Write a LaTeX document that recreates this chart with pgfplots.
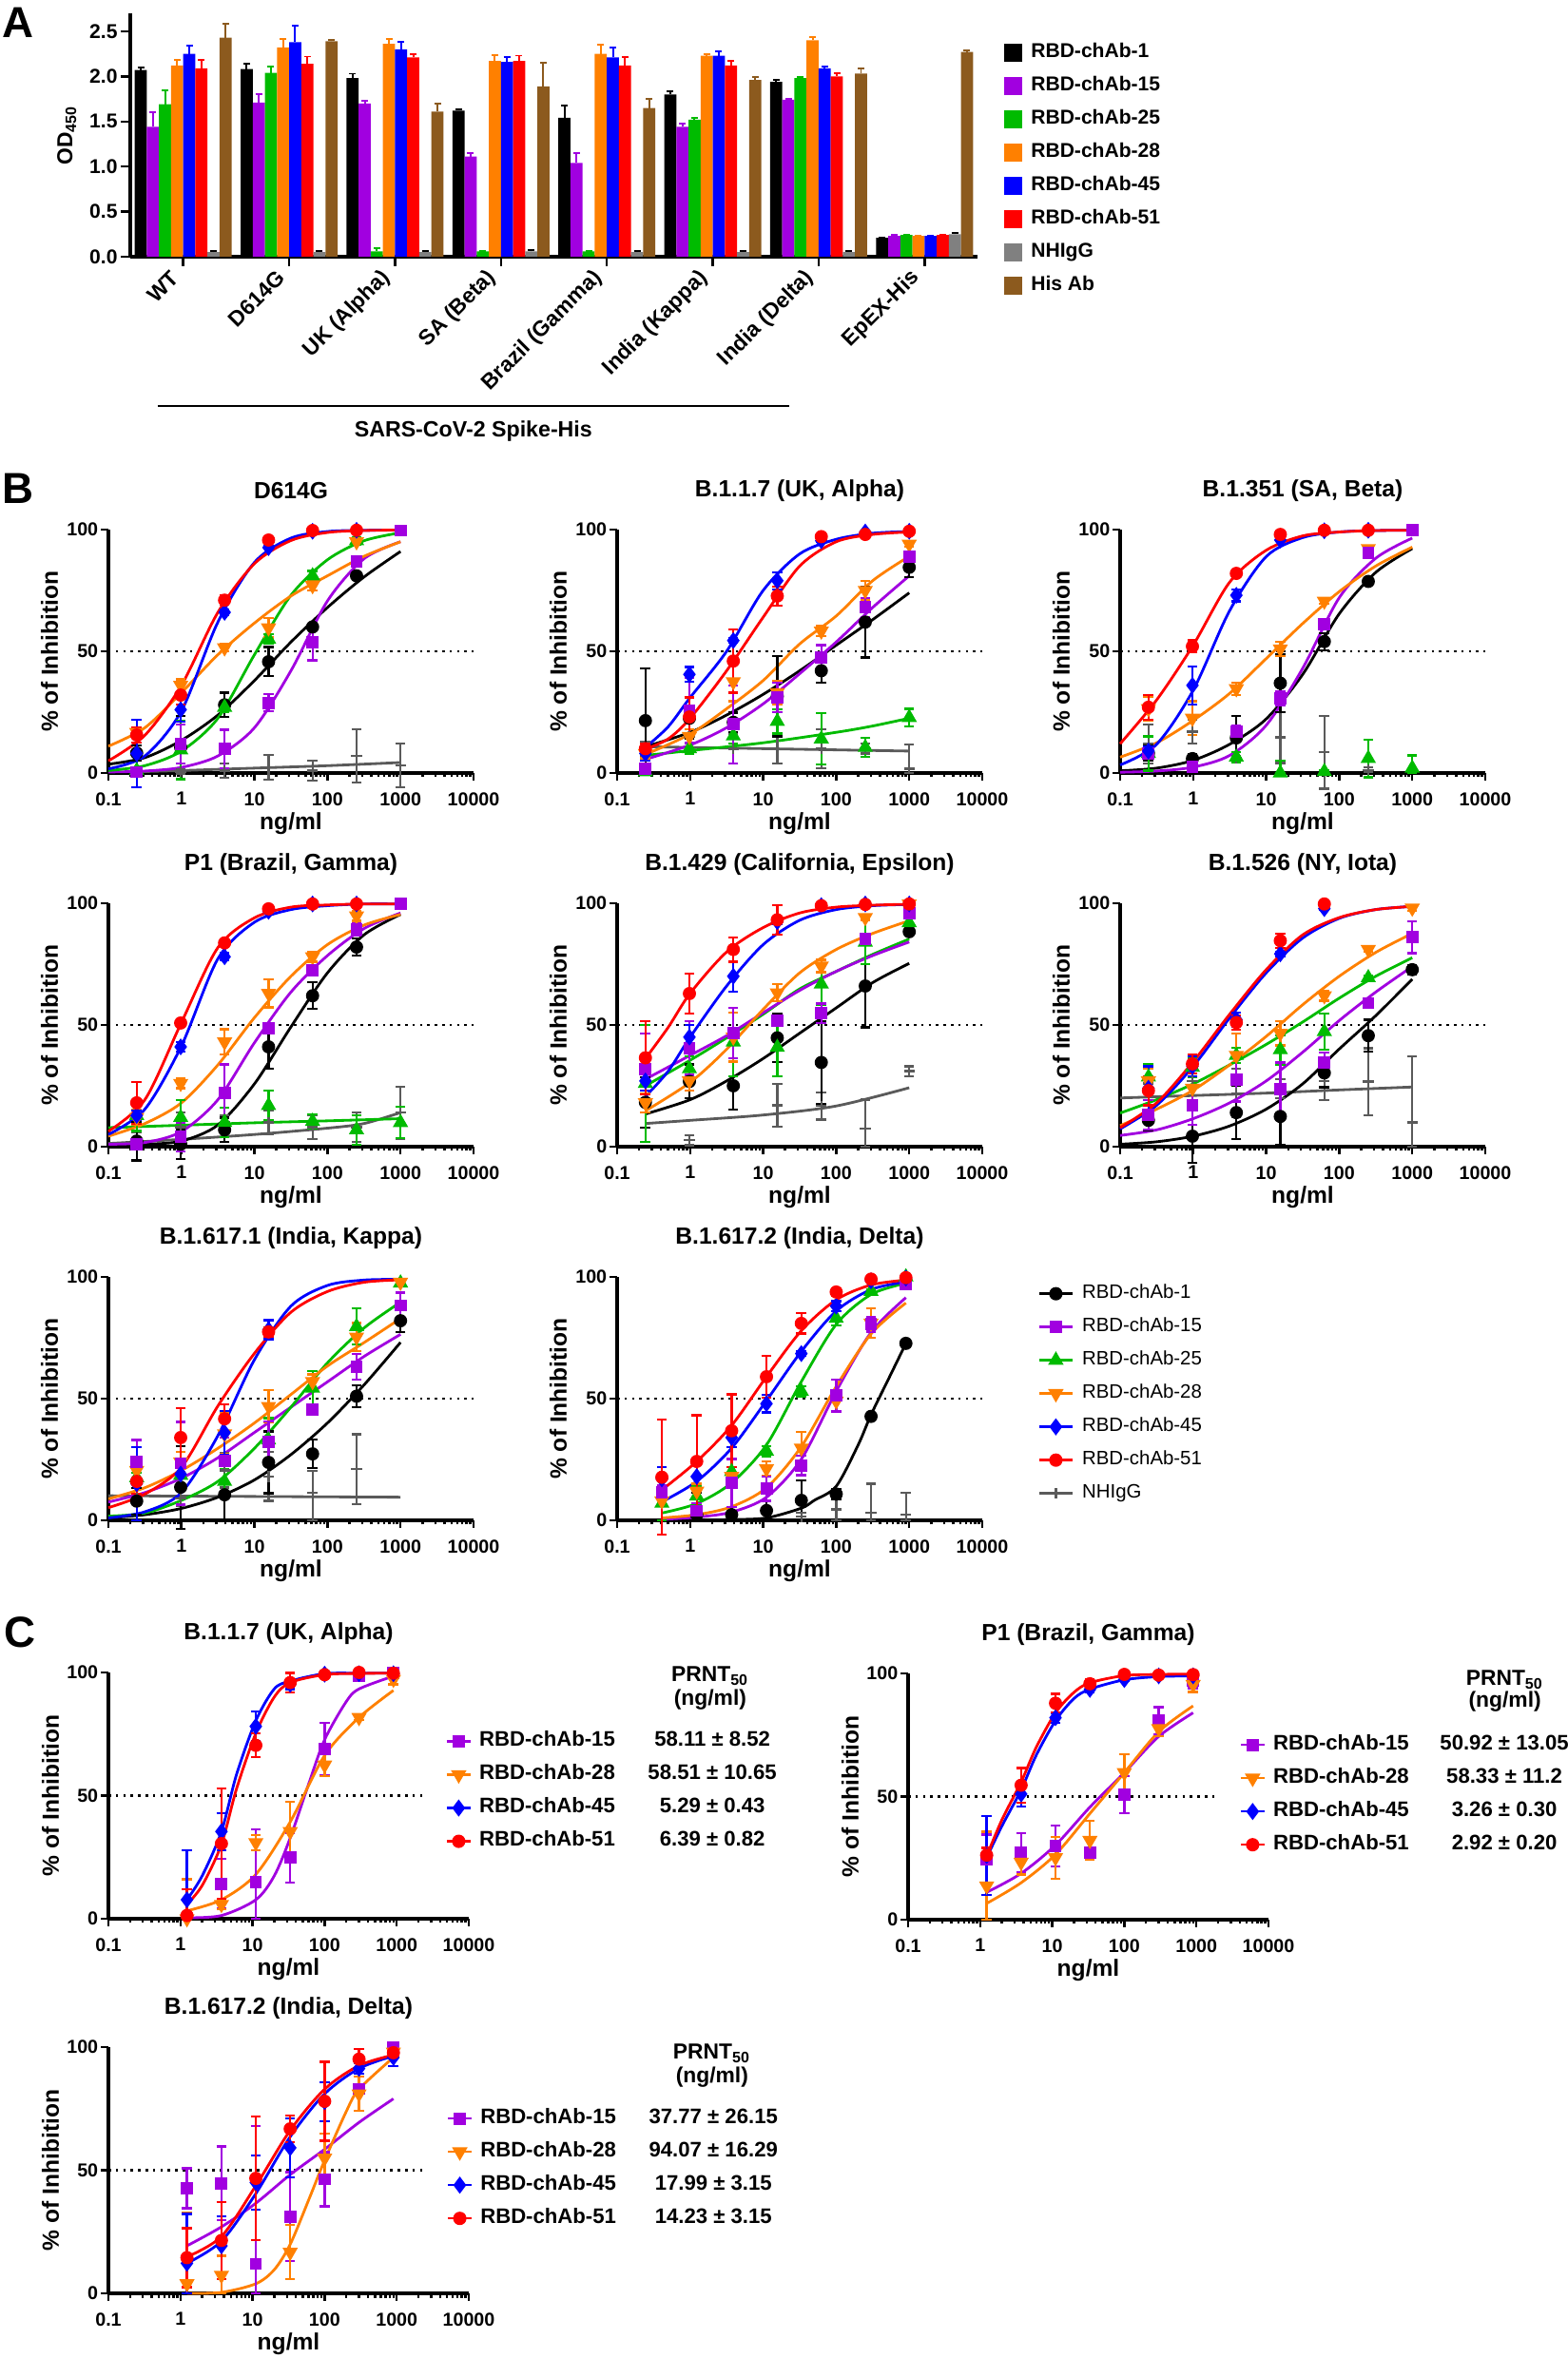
\documentclass[border=0pt]{standalone}
\usepackage{fontspec}
\setmainfont{Liberation Sans}
\usepackage{pgfplots}
\pgfplotsset{compat=1.18}
\newcommand\fs[1]{\fontsize{#1}{#1}\selectfont}

\definecolor{cBlk}{HTML}{000000}
\definecolor{cPur}{HTML}{A100E0}
\definecolor{cGrn}{HTML}{00BB00}
\definecolor{cOrg}{HTML}{FF8000}
\definecolor{cBlu}{HTML}{0000FF}
\definecolor{cRed}{HTML}{FF0000}
\definecolor{cGry}{HTML}{808080}
\definecolor{cGry2}{HTML}{5A5A5A}
\definecolor{cBrn}{HTML}{8C5A1E}

\tikzset{
 s1/.style={cBlk, mark=*, mark size=1.65pt},
 s15/.style={cPur, mark=square*, mark size=1.5pt},
 s25/.style={cGrn, mark=triangle*, mark size=2pt},
 s28/.style={cOrg, mark=triangle*, mark size=2pt, mark options={rotate=180}},
 s45/.style={cBlu, mark=diamond*, mark size=2pt},
 s51/.style={cRed, mark=*, mark size=1.65pt},
 sIg/.style={cGry2, mark=+, mark size=1.6pt},
}

\pgfplotsset{
 pts/.style={only marks, forget plot, line width=0.65pt,
   error bars/y dir=both, error bars/y explicit,
   error bars/error bar style={line width=0.65pt, solid},
   error bars/error mark options={rotate=90, mark size=1.5pt, line width=0.65pt}},
 crv/.style={smooth, no marks, line width=0.8pt, forget plot},
 dot50/.style={black, line width=0.7pt, dash pattern=on 0.25mm off 0.53mm, forget plot},
 drx/.style={anchor=south west, scale only axis, width=38.4mm, height=25.6mm,
   xmin=0.1, xmax=10000, ymin=0, ymax=100,
   axis lines=left, axis line style={-, line width=0.9pt},
   xtick={0.1,1,10,100,1000,10000}, xticklabels={0.1,1,10,100,1000,10000},
   minor xtick={0.2,0.3,0.4,0.5,0.6,0.7,0.8,0.9,2,3,4,5,6,7,8,9,20,30,40,50,60,70,80,90,200,300,400,500,600,700,800,900,2000,3000,4000,5000,6000,7000,8000,9000},
   ytick={0,50,100}, yticklabels={0,50,100},
   tick align=outside, major tick length=0.8mm, minor tick length=0.45mm,
   tick style={black, line width=0.7pt},
   tick label style={font=\fs{5.6}\bfseries},
   y tick label style={inner sep=0.6pt},
   label style={font=\fs{7}\bfseries},
   title style={font=\fs{7}\bfseries, at={(axis description cs:0.5,1.077)}, anchor=center},
   xlabel={ng/ml}, ylabel={\% of Inhibition},
   xlabel style={at={(axis description cs:0.5,-0.207)}, anchor=center},
   ylabel style={at={(axis description cs:-0.161,0.5)}, anchor=center},
   clip=false},
 bleg/.style={legend style={at={(axis description cs:1.151,1.002)}, anchor=north west, draw=none, fill=none, inner sep=0pt,
   font=\fs{5.8}, nodes={inner sep=0pt, minimum height=3.5mm}, row sep=0pt,
   /tikz/every odd column/.append style={column sep=0.9mm}}, legend cell align=left,
   legend image code/.code={\draw[mark repeat=2,mark phase=2,##1] plot coordinates {(0mm,0mm) (1.75mm,0mm) (3.5mm,0mm)};}},
 cleg/.style={legend style={at={(axis description cs:#1)}, anchor=north west, draw=none, fill=none, inner sep=0pt,
   font=\fs{6.3}\bfseries, nodes={inner sep=0pt, minimum height=3.5mm}, row sep=0pt,
   /tikz/every odd column/.append style={column sep=0.8mm}}, legend cell align=left,
   legend image code/.code={\draw[mark repeat=2,mark phase=2,##1] plot coordinates {(0mm,0mm) (1.25mm,0mm) (2.5mm,0mm)};}},
 bb/.style 2 args={fill=#1, draw=none,
   error bars/y dir=plus, error bars/y explicit,
   error bars/error bar style={#2, line width=0.55pt},
   error bars/error mark options={#2, rotate=90, mark size=0.35mm, line width=0.55pt},
   legend image code/.code={\fill[#1] (0mm,-0.95mm) rectangle (1.9mm,0.95mm);}},
}
\newcommand\crv[2]{\addplot[#1,crv] coordinates {#2};}
\newcommand\pts[2]{\addplot[#1,pts] coordinates {#2};}

\begin{document}
\begin{tikzpicture}
\useasboundingbox (0,0) rectangle (164.8mm,248mm);

% ---------------- A ----------------
\begin{axis}[at={(13.7mm,221mm)}, anchor=south west, scale only axis, width=89.1mm, height=25.6mm,
  ybar=0pt, bar width=0.1144, xmin=-0.5, xmax=7.5, ymin=0, ymax=2.7,
  axis lines=left, axis line style={-, line width=0.9pt},
  xtick={0,1,2,3,4,5,6,7},
  xticklabels={WT, D614G, UK (Alpha), SA (Beta), Brazil (Gamma), India (Kappa), India (Delta), EpEX-His},
  x tick label style={rotate=45, anchor=east, font=\fs{6.5}\bfseries},
  ytick={0,0.5,1,1.5,2,2.5}, yticklabels={0.0,0.5,1.0,1.5,2.0,2.5},
  y tick label style={font=\fs{6}\bfseries, inner sep=0.8pt},
  tick align=outside, major tick length=1mm, tick style={black, line width=0.7pt},
  ylabel={OD\textsubscript{450}}, ylabel style={at={(axis description cs:-0.075,0.5)}, anchor=center, font=\fs{6.5}\bfseries},
  clip=false,
  legend style={at={(axis description cs:1.031,0.908)}, anchor=north west, draw=none, fill=none, inner sep=0pt,
    font=\fs{6}\bfseries, nodes={inner sep=0pt, minimum height=3.5mm}, row sep=0pt,
    /tikz/every odd column/.append style={column sep=0.9mm}}, legend cell align=left]
\addplot[bb={cBlk}{cBlk}] coordinates {(0,2.07)+-(0,0.03) (1,2.08)+-(0,0.06) (2,1.98)+-(0,0.05) (3,1.62)+-(0,0.01) (4,1.54)+-(0,0.14) (5,1.80)+-(0,0.03) (6,1.94)+-(0,0.02) (7,0.21)+-(0,0.005)};
\addlegendentry{RBD-chAb-1}
\addplot[bb={cPur}{cPur}] coordinates {(0,1.44)+-(0,0.16) (1,1.71)+-(0,0.09) (2,1.70)+-(0,0.03) (3,1.11)+-(0,0.04) (4,1.04)+-(0,0.11) (5,1.44)+-(0,0.04) (6,1.74)+-(0,0.01) (7,0.23)+-(0,0.01)};
\addlegendentry{RBD-chAb-15}
\addplot[bb={cGrn}{cGrn}] coordinates {(0,1.69)+-(0,0.16) (1,2.04)+-(0,0.07) (2,0.06)+-(0,0.03) (3,0.06)+-(0,0) (4,0.06)+-(0,0) (5,1.52)+-(0,0.02) (6,1.98)+-(0,0.01) (7,0.24)+-(0,0.005)};
\addlegendentry{RBD-chAb-25}
\addplot[bb={cOrg}{cOrg}] coordinates {(0,2.12)+-(0,0.06) (1,2.32)+-(0,0.09) (2,2.36)+-(0,0.05) (3,2.17)+-(0,0.07) (4,2.25)+-(0,0.10) (5,2.23)+-(0,0.02) (6,2.40)+-(0,0.04) (7,0.23)+-(0,0)};
\addlegendentry{RBD-chAb-28}
\addplot[bb={cBlu}{cBlu}] coordinates {(0,2.25)+-(0,0.09) (1,2.38)+-(0,0.18) (2,2.30)+-(0,0.08) (3,2.16)+-(0,0.05) (4,2.21)+-(0,0.11) (5,2.23)+-(0,0.05) (6,2.09)+-(0,0.02) (7,0.23)+-(0,0)};
\addlegendentry{RBD-chAb-45}
\addplot[bb={cRed}{cRed}] coordinates {(0,2.09)+-(0,0.09) (1,2.14)+-(0,0.08) (2,2.21)+-(0,0.04) (3,2.17)+-(0,0.06) (4,2.12)+-(0,0.09) (5,2.12)+-(0,0.05) (6,2.00)+-(0,0.04) (7,0.24)+-(0,0)};
\addlegendentry{RBD-chAb-51}
\addplot[bb={cGry}{black}] coordinates {(0,0.05)+-(0,0.01) (1,0.05)+-(0,0.01) (2,0.05)+-(0,0.01) (3,0.06)+-(0,0.01) (4,0.05)+-(0,0.01) (5,0.05)+-(0,0.01) (6,0.05)+-(0,0.01) (7,0.25)+-(0,0.01)};
\addlegendentry{NHIgG}
\addplot[bb={cBrn}{cBrn}] coordinates {(0,2.43)+-(0,0.15) (1,2.39)+-(0,0.01) (2,1.61)+-(0,0.09) (3,1.89)+-(0,0.26) (4,1.65)+-(0,0.10) (5,1.96)+-(0,0.03) (6,2.03)+-(0,0.06) (7,2.27)+-(0,0.02)};
\addlegendentry{His Ab}
\draw[line width=0.8pt] (axis cs:-0.24,-1.656) -- (axis cs:5.72,-1.656);
\node[font=\fs{6.6}\bfseries] at (axis cs:2.74,-1.94) {SARS-CoV-2 Spike-His};
\end{axis}

% ---------------- B1 D614G ----------------
\begin{semilogxaxis}[drx, at={(11.4mm,166.7mm)}, title={D614G}]
\addplot[dot50] coordinates {(0.1,50)(10000,50)};
\crv{cGry2}{(0.244,0.5)(1,1)(10,2)(100,3)(1000,4.3)}
\crv{cBlk}{(0.1,3.6)(0.316,6.3)(1,13.4)(3.16,23.8)(10,38)(31.6,53.8)(100,68)(316,80.5)(1000,91)}
\crv{cPur}{(0.1,0.4)(0.316,0.8)(1,2.3)(3.16,7)(10,18.6)(31.6,42)(100,70.7)(316,88)(1000,95)}
\crv{cGrn}{(0.1,1)(0.316,3)(1,9)(3.16,22.5)(10,48.6)(31.6,73)(100,87.6)(316,95.4)(1000,98.7)}
\crv{cOrg}{(0.1,11)(0.316,18.6)(1,33)(3.16,48.6)(10,61.6)(31.6,72.7)(100,81)(316,89)(1000,95)}
\crv{cBlu}{(0.1,1.7)(0.316,7)(1,25.5)(3.16,62)(10,86.5)(31.6,96.5)(100,99.2)(316,99.7)(1000,99.8)}
\crv{cRed}{(0.1,5)(0.316,15.5)(1,36)(3.16,66)(10,86)(31.6,95.5)(100,98.8)(316,99.6)(1000,99.8)}
\pts{sIg}{(0.244,0.5)+-(0,1) (0.977,0.5)+-(0,1) (3.9,1)+-(0,3) (15.6,2.3)+-(0,5) (62.5,1)+-(0,4) (250,7)+-(0,11) (1000,3)+-(0,9)}
\pts{s1}{(0.244,8.2)+-(0,3) (0.977,10.5)+-(0,13) (3.9,28)+-(0,5) (15.6,45.7)+-(0,6) (62.5,60)+-(0,1) (250,81)+-(0,1)}
\pts{s25}{(0.244,1)+-(0,1) (0.977,9.5)+-(0,12) (3.9,27)+-(0,2) (15.6,55)+-(0,2) (62.5,81)+-(0,2) (250,95.4)+-(0,1.5)}
\pts{s28}{(0.244,16.7)+-(0,1.5) (0.977,36)+-(0,2.5) (3.9,51.4)+-(0,1.5) (15.6,59.6)+-(0,4) (62.5,77)+-(0,2) (250,95)+-(0,1)}
\pts{s15}{(0.244,0.4)+-(0,1) (0.977,12)+-(0,8) (3.9,9.8)+-(0,8) (15.6,28.8)+-(0,3.5) (62.5,53.8)+-(0,7.5) (250,87)+-(0,1.5) (1000,99.6)+-(0,0.5)}
\pts{s45}{(0.244,8)+-(0,14) (0.977,26)+-(0,5) (3.9,66)+-(0,1) (15.6,92.6)+-(0,0.5) (62.5,99.3)+-(0,0.3) (250,99.7)+-(0,0)}
\pts{s51}{(0.244,15.6)+-(0,3) (0.977,32)+-(0,4) (3.9,71)+-(0,2) (15.6,95.7)+-(0,1) (62.5,99.6)+-(0,0.3) (250,99.7)+-(0,0.3)}
\end{semilogxaxis}

% ---------------- B2 B.1.1.7 ----------------
\begin{semilogxaxis}[drx, at={(64.9mm,166.7mm)}, title={B.1.1.7 (UK, Alpha)}]
\addplot[dot50] coordinates {(0.1,50)(10000,50)};
\crv{cGry2}{(0.244,10.8)(10,10)(1000,9)}
\crv{cGrn}{(0.244,7.2)(1,9.2)(10,12.4)(100,16.7)(316,19.3)(1000,22.5)}
\crv{cBlk}{(0.244,10.8)(1,16.7)(3.16,23.8)(10,32.3)(31.6,42)(100,52.5)(316,63)(1000,74)}
\crv{cPur}{(0.244,5.6)(1,11.5)(3.16,18.6)(10,28.4)(31.6,40.8)(100,53.8)(316,68)(1000,81)}
\crv{cOrg}{(0.244,7.6)(1,16)(3.16,26.4)(10,38)(31.6,53)(100,64.5)(316,79)(1000,89)}
\crv{cBlu}{(0.244,10.5)(0.5,19)(1,31)(3.16,50)(10,75)(31.6,90)(100,96)(316,98.5)(1000,99.2)}
\crv{cRed}{(0.244,9.8)(0.5,14)(1,22.5)(3.16,42)(10,64)(31.6,85)(100,95)(316,98)(1000,99)}
\pts{sIg}{(0.244,10)+-(0,3) (0.977,15)+-(0,3) (3.9,10)+-(0,6) (15.6,9.8)+-(0,6) (62.5,10)+-(0,8) (250,10)+-(0,2) (1000,1.7)+=(0,10)-=(0,1.7)}
\pts{s1}{(0.244,21.5)+-(0,21.5) (0.977,22.5)+-(0,8.5) (3.9,20.8)+-(0,4) (15.6,31.5)+-(0,16.5) (62.5,42)+-(0,4.8) (250,62)+-(0,14.5) (1000,84.5)+-(0,4)}
\pts{s25}{(0.244,0.5)+-(0,1) (0.977,10)+-(0,2) (3.9,15.2)+-(0,3) (15.6,21.2)+-(0,5) (62.5,14)+-(0,10.5) (250,10.5)+-(0,4) (1000,22.8)+-(0,3.6)}
\pts{s28}{(0.244,8)+-(0,2) (0.977,15)+-(0,3) (3.9,37.5)+-(0,8) (15.6,33)+-(0,5) (62.5,58.3)+-(0,2) (250,75)+-(0,4) (1000,94)+-(0,1)}
\pts{s15}{(0.244,1.7)+-(0,2) (0.977,25.8)+-(0,13.5) (3.9,20)+-(0,16) (15.6,31)+-(0,6) (62.5,47.5)+-(0,5) (250,68)+-(0,4) (1000,89)+-(0,2)}
\pts{s45}{(0.244,8)+-(0,3) (0.977,40.5)+-(0,3) (3.9,54.4)+-(0,1) (15.6,79)+-(0,3.5) (62.5,95.4)+-(0,0.5) (250,99)+-(0,0.3) (1000,99.3)+-(0,0.3)}
\pts{s51}{(0.244,10)+-(0,2) (0.977,23)+-(0,8) (3.9,46)+-(0,13) (15.6,72.7)+-(0,3.9) (62.5,97.1)+-(0,0.5) (250,98)+-(0,0.5) (1000,99.3)+-(0,0.3)}
\end{semilogxaxis}

% ---------------- B3 B.1.351 ----------------
\begin{semilogxaxis}[drx, at={(117.8mm,166.7mm)}, title={B.1.351 (SA, Beta)}]
\addplot[dot50] coordinates {(0.1,50)(10000,50)};
\crv{cBlk}{(0.1,0.9)(0.316,2)(1,5.2)(3.16,11.8)(10,22.2)(31.6,40.5)(100,65.4)(316,82.4)(1000,92.2)}
\crv{cPur}{(0.1,0.3)(0.316,0.8)(1,2.4)(3.16,7.2)(10,19.6)(31.6,43)(100,72)(316,88.2)(1000,96.5)}
\crv{cOrg}{(0.1,6.5)(0.316,12.4)(1,21.6)(3.16,32.7)(10,47)(31.6,61.4)(100,74.5)(316,85)(1000,92.8)}
\crv{cBlu}{(0.1,3.3)(0.316,11.8)(1,34)(3.16,66.7)(10,88.9)(31.6,96.7)(100,99)(316,99.6)(1000,99.7)}
\crv{cRed}{(0.1,12)(0.316,30)(1,52.5)(3.16,78.4)(10,91.5)(31.6,97.4)(100,99)(316,99.6)(1000,99.7)}
\pts{sIg}{(0.244,12)+-(0,8) (0.977,17)+-(0,5) (3.9,6)+-(0,1) (15.6,14.6)+-(0,10.5) (62.5,8.5)+-(0,15) (250,1.3)+-(0,1)}
\pts{s1}{(0.244,8.1)+-(0,3) (0.977,5.9)+-(0,2) (3.9,14.4)+-(0,9) (15.6,36.9)+-(0,11.8) (62.5,54)+-(0,3.5) (250,78.7)+-(0,1)}
\pts{s25}{(0.244,8)+-(0,7) (3.9,6.5)+-(0,2) (15.6,0)+=(0,5)-=(0,0) (62.5,0.6)+-(0,0.5) (250,6)+-(0,7.8) (1000,2)+=(0,5.2)-=(0,2)}
\pts{s28}{(0.244,26.4)+-(0,5) (0.977,22.5)+-(0,7) (3.9,34.6)+-(0,2.5) (15.6,51)+-(0,3) (62.5,70.6)+-(0,1) (250,92.2)+-(0,1)}
\pts{s15}{(0.244,8)+-(0,2) (0.977,2.5)+-(0,1) (3.9,17)+-(0,2.5) (15.6,30.7)+-(0,3) (62.5,61)+-(0,2) (250,90.5)+-(0,1) (1000,99.9)+-(0,0)}
\pts{s45}{(0.244,9)+-(0,2) (0.977,36)+-(0,7.8) (3.9,73)+-(0,2.5) (15.6,95.7)+-(0,0.5) (62.5,99.5)+-(0,0.2) (250,99.7)+-(0,0)}
\pts{s51}{(0.244,27)+-(0,5) (0.977,52)+-(0,2.5) (3.9,82)+-(0,0.5) (15.6,98)+-(0,0.3) (62.5,99.7)+-(0,0) (250,99.7)+-(0,0)}
\end{semilogxaxis}

% ---------------- B4 P1 ----------------
\begin{semilogxaxis}[drx, at={(11.4mm,127.4mm)}, title={P1 (Brazil, Gamma)}]
\addplot[dot50] coordinates {(0.1,50)(10000,50)};
\crv{cGry2}{(0.1,1.3)(1,3)(10,5)(100,7.6)(316,9.5)(1000,14)}
\crv{cGrn}{(0.1,7.8)(1,8.8)(10,9.8)(100,10.6)(1000,11.5)}
\crv{cBlk}{(0.1,0.7)(0.316,1)(1,2.3)(3.16,8.9)(10,25.8)(31.6,49.2)(100,71.4)(316,87)(1000,95.4)}
\crv{cPur}{(0.1,1)(0.316,1.7)(1,6.2)(3.16,19.3)(10,42.7)(31.6,63.5)(100,78.5)(316,89.6)(1000,96)}
\crv{cOrg}{(0.1,4.3)(0.316,9.5)(1,18)(3.16,33.6)(10,53)(31.6,70)(100,83)(316,91)(1000,95.4)}
\crv{cBlu}{(0.1,5)(0.316,15.4)(1,41.4)(3.16,77.2)(10,92.2)(31.6,97.4)(100,99)(316,99.7)(1000,99.7)}
\crv{cRed}{(0.1,6.3)(0.316,19.3)(1,51)(3.16,81.8)(10,94)(31.6,98.4)(100,99.3)(316,99.7)(1000,99.7)}
\pts{sIg}{(0.244,3)+-(0,3) (0.977,8)+-(0,6) (3.9,10)+-(0,3) (15.6,10)+-(0,5) (62.5,8)+-(0,5) (250,8)+-(0,6) (1000,14)+-(0,10.7)}
\pts{s1}{(0.244,2.3)+-(0,8) (0.977,1)+-(0,6) (3.9,6.9)+-(0,5) (15.6,41)+-(0,9) (62.5,62)+-(0,5.5) (250,82)+-(0,3.6)}
\pts{s25}{(0.244,12.8)+-(0,6.4) (0.977,12)+-(0,7) (3.9,10)+-(0,6) (15.6,16.9)+-(0,6) (62.5,10.4)+-(0,3) (250,6.9)+-(0,6) (1000,9.9)+-(0,6.5)}
\pts{s28}{(0.244,12)+-(0,3) (0.977,26)+-(0,2) (3.9,43)+-(0,5.2) (15.6,63)+-(0,5.8) (62.5,78)+-(0,2) (250,94.8)+-(0,2)}
\pts{s15}{(0.244,1)+-(0,1) (0.977,4)+-(0,6) (3.9,22)+-(0,11.8) (15.6,48.6)+-(0,1.5) (62.5,72.4)+-(0,1.5) (250,89.3)+-(0,2.5) (1000,99.7)+-(0,0)}
\pts{s45}{(0.244,12.8)+-(0,2) (0.977,41)+-(0,2) (3.9,78)+-(0,1.5) (15.6,96.7)+-(0,0.3) (62.5,99.7)+-(0,0) (250,99.7)+-(0,0)}
\pts{s51}{(0.244,18)+-(0,8.5) (0.977,50.8)+-(0,1) (3.9,83.7)+-(0,1) (15.6,97.7)+-(0,0.5) (62.5,99.7)+-(0,0) (250,99.7)+-(0,0)}
\end{semilogxaxis}

% ---------------- B5 B.1.429 ----------------
\begin{semilogxaxis}[drx, at={(64.9mm,127.4mm)}, title={B.1.429 (California, Epsilon)}]
\addplot[dot50] coordinates {(0.1,50)(10000,50)};
\crv{cGry2}{(0.244,9.5)(1,10.8)(10,13)(100,16.7)(1000,24.2)}
\crv{cBlk}{(0.244,13.4)(1,19.3)(3.16,27)(10,36.2)(31.6,46.6)(100,57)(316,67.4)(1000,75.3)}
\crv{cGrn}{(0.244,25)(1,35.5)(3.16,44.7)(10,54.4)(31.6,64.8)(100,72)(316,79)(1000,85.3)}
\crv{cPur}{(0.244,27.7)(1,37.5)(3.16,45.6)(10,55)(31.6,64.2)(100,72)(316,78.5)(1000,84.1)}
\crv{cOrg}{(0.244,14.7)(1,26.4)(3.16,40)(10,56.4)(31.6,71.4)(100,81)(316,87.6)(1000,92.8)}
\crv{cBlu}{(0.244,20.6)(0.5,31)(1,45)(3.16,66)(10,83)(31.6,93)(100,97.4)(316,99)(1000,99.5)}
\crv{cRed}{(0.244,36.2)(0.5,49)(1,63)(3.16,80)(10,90)(31.6,96)(100,98.4)(316,99.2)(1000,99.6)}
\pts{sIg}{(0.977,2.6)+-(0,2) (15.6,17)+-(0,8.7) (62.5,16.7)+-(0,5.6) (250,7.3)+=(0,12)-=(0,7.3) (1000,31)+-(0,2)}
\pts{s1}{(0.244,18.2)+-(0,10.4) (0.977,26.8)+-(0,7) (3.9,25)+-(0,9.8) (15.6,44.7)+-(0,10) (62.5,34.6)+-(0,17) (250,66)+-(0,17) (1000,88.3)+-(0,1)}
\pts{s25}{(0.244,26)+-(0,24) (0.977,32)+-(0,5) (3.9,43)+-(0,14) (15.6,40.8)+-(0,12) (62.5,66.8)+-(0,8.5) (250,84)+-(0,9) (1000,92)+-(0,2)}
\pts{s28}{(0.244,18)+-(0,4) (0.977,27)+-(0,4) (3.9,45)+-(0,10) (15.6,63.2)+-(0,3.5) (62.5,74.2)+-(0,2.5) (250,94.1)+-(0,1) (1000,99.7)+-(0,0)}
\pts{s15}{(0.244,31.9)+-(0,14.7) (0.977,40.5)+-(0,11) (3.9,46.6)+-(0,10.4) (15.6,51.8)+-(0,2) (62.5,54.8)+-(0,4) (250,85.3)+-(0,1.5) (1000,96)+-(0,2)}
\pts{s45}{(0.244,27)+-(0,4) (0.977,45)+-(0,5) (3.9,70)+-(0,6.2) (15.6,92.4)+-(0,1) (62.5,99)+-(0,0.3) (250,99.7)+-(0,0) (1000,99.7)+-(0,0)}
\pts{s51}{(0.244,36.5)+-(0,15) (0.977,62.9)+-(0,8.2) (3.9,81)+-(0,5) (15.6,93.2)+-(0,6) (62.5,99)+-(0,0.3) (250,99.5)+-(0,0) (1000,99.7)+-(0,0)}
\end{semilogxaxis}

% ---------------- B6 B.1.526 ----------------
\begin{semilogxaxis}[drx, at={(117.8mm,127.4mm)}, title={B.1.526 (NY, Iota)}]
\addplot[dot50] coordinates {(0.1,50)(10000,50)};
\crv{cGry2}{(0.1,20)(1,21)(10,22)(100,23.3)(1000,24.5)}
\crv{cBlk}{(0.1,1)(0.316,2)(1,4.3)(3.16,8.5)(10,15.4)(31.6,25.8)(100,40.1)(316,53.8)(1000,68.8)}
\crv{cPur}{(0.1,4.6)(0.316,6.9)(1,11.5)(3.16,18)(10,27)(31.6,38.8)(100,51.8)(316,63.5)(1000,74)}
\crv{cGrn}{(0.1,13.8)(0.316,19.3)(1,25.8)(3.16,33.6)(10,42)(31.6,51.2)(100,61)(316,70)(1000,77.6)}
\crv{cOrg}{(0.1,8.6)(0.316,15.4)(1,23.2)(3.16,33.6)(10,45.3)(31.6,58.3)(100,70)(316,79.8)(1000,87.6)}
\crv{cBlu}{(0.1,7.3)(0.316,17)(1,33)(3.16,52.9)(10,71.4)(31.6,85.7)(100,93.8)(316,97.4)(1000,98.7)}
\crv{cRed}{(0.1,7.8)(0.316,18)(1,34.9)(3.16,54.4)(10,72.7)(31.6,87)(100,94.1)(316,97.4)(1000,98.7)}
\pts{sIg}{(0.244,26)+-(0,7) (0.977,27)+-(0,9) (3.9,22)+-(0,10) (15.6,23.8)+-(0,4) (62.5,27)+-(0,8) (250,26.7)+-(0,13.7) (1000,10)+=(0,27)-=(0,10)}
\pts{s1}{(0.244,10.8)+-(0,4) (0.977,4.3)+-(0,11) (3.9,14)+-(0,11) (15.6,12.4)+-(0,11.7) (62.5,30.3)+-(0,5.9) (250,45.6)+-(0,6.5) (1000,72.7)+-(0,2)}
\pts{s25}{(0.244,28.6)+-(0,5.5) (0.977,32.6)+-(0,4) (3.9,37.5)+-(0,3) (15.6,39.8)+-(0,6) (62.5,47.3)+-(0,7.4) (250,69.4)+-(0,1)}
\pts{s28}{(0.244,27)+-(0,5) (0.977,24)+-(0,5) (3.9,37.5)+-(0,9) (15.6,46.6)+-(0,5) (62.5,62)+-(0,2) (250,81)+-(0,1) (1000,98)+-(0,1)}
\pts{s15}{(0.244,13)+-(0,6) (0.977,17)+-(0,8) (3.9,27.5)+-(0,9) (15.6,23.6)+-(0,11) (62.5,34.6)+-(0,4) (250,59)+-(0,2) (1000,86)+-(0,6.5)}
\pts{s45}{(0.244,24)+-(0,9) (0.977,33)+-(0,4) (3.9,52.2)+-(0,3) (15.6,79.2)+-(0,1) (62.5,97.8)+-(0,0.5)}
\pts{s51}{(0.244,23)+-(0,6) (0.977,34)+-(0,4) (3.9,51)+-(0,3) (15.6,84.6)+-(0,3) (62.5,99.7)+-(0,0.5)}
\end{semilogxaxis}

% ---------------- B7 B.1.617.1 ----------------
\begin{semilogxaxis}[drx, at={(11.4mm,88.1mm)}, title={B.1.617.1 (India, Kappa)}]
\addplot[dot50] coordinates {(0.1,50)(10000,50)};
\crv{cGry2}{(0.1,10.1)(10,9.8)(1000,9.5)}
\crv{cBlk}{(0.1,1)(0.316,2.3)(1,4.9)(3.16,9.5)(10,16.6)(31.6,27)(100,40)(316,55.6)(1000,73.1)}
\crv{cPur}{(0.1,7.5)(0.316,11.4)(1,17.3)(3.16,25.7)(10,36.1)(31.6,46.5)(100,56.9)(316,67.3)(1000,76.4)}
\crv{cGrn}{(0.1,1.7)(0.316,3)(1,8.2)(3.16,16)(10,29.6)(31.6,46.5)(100,64.7)(316,79)(1000,89.6)}
\crv{cOrg}{(0.1,8.8)(0.316,13.4)(1,20.5)(3.16,29.6)(10,40)(31.6,51.7)(100,63.4)(316,73)(1000,82.9)}
\crv{cBlu}{(0.1,1)(0.316,3.5)(1,11.4)(3.16,34.8)(10,66)(31.6,88)(100,96.5)(316,98.7)(1000,99)}
\crv{cRed}{(0.1,5.2)(0.316,10.8)(1,21.8)(3.16,47)(10,68.6)(31.6,85.5)(100,94)(316,97.8)(1000,98.8)}
\pts{sIg}{(0.244,9)+-(0,2) (0.977,9)+-(0,3) (3.9,20.5)+-(0,7) (15.6,18)+-(0,10) (62.5,11.4)+=(0,9)-=(0,11.4) (250,21)+-(0,14.3)}
\pts{s1}{(0.244,7.9)+-(0,5.5) (0.977,13.6)+-(0,17) (3.9,10.5)+-(0,10.6) (15.6,23.8)+-(0,12.7) (62.5,27.3)+-(0,5.8) (250,51)+-(0,4.5) (1000,82)+-(0,4.8)}
\pts{s25}{(0.244,17.5)+-(0,2) (0.977,18.5)+-(0,5) (3.9,16)+-(0,5) (15.6,33)+-(0,9) (62.5,54.3)+-(0,7) (250,79.6)+-(0,7.4) (1000,97.5)+-(0,1)}
\pts{s28}{(0.244,20.5)+-(0,3) (0.977,24)+-(0,4) (3.9,35.5)+-(0,8.4) (15.6,46.8)+-(0,6.6) (62.5,57)+-(0,3) (250,75.3)+-(0,5.8) (1000,97.8)+-(0,1)}
\pts{s15}{(0.244,24)+-(0,9) (0.977,23.4)+-(0,17) (3.9,24.4)+-(0,9.7) (15.6,32.2)+-(0,8.4) (62.5,45.6)+-(0,2) (250,63)+-(0,5.3) (1000,88.3)+-(0,5.3)}
\pts{s45}{(0.244,15)+-(0,15) (0.977,19)+-(0,6) (3.9,36)+-(0,9) (15.6,78.3)+-(0,3.9)}
\pts{s51}{(0.244,16)+-(0,5) (0.977,34)+-(0,12) (3.9,41.7)+-(0,6) (15.6,77.4)+-(0,2)}
\end{semilogxaxis}

% ---------------- B8 B.1.617.2 ----------------
\begin{semilogxaxis}[drx, at={(64.9mm,88.1mm)}, title={B.1.617.2 (India, Delta)}, bleg]
\addplot[dot50] coordinates {(0.1,50)(10000,50)};
\crv{cBlk}{(0.41,0)(1.23,0.1)(3.7,0.3)(11.1,1)(33.3,5)(50,8.2)(100,14)(200,31)(300,43.4)(500,57)(900,72.7)}
\crv{cPur}{(0.41,0.4)(1.23,1.3)(3.7,3.4)(11.1,9.5)(33.3,25.1)(100,53)(300,77.2)(900,91.5)}
\crv{cOrg}{(0.41,1)(1.23,2.3)(3.7,5.6)(11.1,13.4)(33.3,30.3)(100,55)(300,76.6)(900,89.3)}
\crv{cGrn}{(0.41,3)(1.23,6.9)(3.7,15.4)(11.1,31)(33.3,57)(100,80.5)(300,92.8)(900,97.4)}
\crv{cBlu}{(0.41,7.6)(1.23,16)(3.7,29.7)(11.1,49.2)(33.3,69.4)(100,86)(300,94.8)(900,98)}
\crv{cRed}{(0.41,12.5)(1.23,24.2)(3.7,39)(11.1,59)(33.3,77.9)(100,90.6)(300,96.7)(900,98.7)}
\pts{sIg}{(33.3,1.5)+-(0,1.5) (100,4.5)+-(0,4.5) (300,3)+=(0,12)-=(0,3) (900,2.3)+=(0,9)-=(0,2.3)}
\pts{s1}{(1.23,2.3)+=(0,9)-=(0,2.3) (3.7,2.3)+=(0,14.7)-=(0,2.3) (11.1,4)+-(0,4) (33.3,8.2)+-(0,8.2) (100,10.8)+-(0,2) (300,42.7)+-(0,1) (900,72.7)+-(0,1)}
\pts{s25}{(0.41,7)+-(0,7) (1.23,10)+-(0,4) (3.7,20)+-(0,5) (11.1,28.4)+-(0,2) (33.3,53)+-(0,2) (100,83)+-(0,3) (300,94)+-(0,1) (900,100)+-(0,0)}
\pts{s28}{(0.41,8)+-(0,2) (1.23,12)+-(0,3) (3.7,18)+-(0,4) (11.1,21.2)+-(0,3) (33.3,29.7)+-(0,6.5) (100,49)+-(0,4) (300,81)+-(0,6)}
\pts{s15}{(0.41,11.5)+-(0,3) (1.23,3.9)+-(0,3) (3.7,15.4)+-(0,9.8) (11.1,13)+-(0,5) (33.3,22.5)+-(0,4) (100,51.2)+-(0,6.5) (300,80.5)+-(0,3) (900,97.1)+-(0,1)}
\pts{s45}{(0.41,17)+-(0,5) (1.23,18)+-(0,5) (3.7,34)+-(0,4) (11.1,47.9)+-(0,3.6) (33.3,68.5)+-(0,1) (100,88)+-(0,2) (300,98.4)+-(0,0.5) (900,99.5)+-(0,0)}
\pts{s51}{(0.41,17.7)+-(0,23.7) (1.23,24.2)+-(0,19) (3.7,36.8)+-(0,15) (11.1,59)+-(0,8.5) (33.3,80.9)+-(0,4.2) (100,93.8)+-(0,1.5) (300,99.1)+-(0,0) (900,99.7)+-(0,0)}
\addlegendimage{s1, line width=0.7pt}\addlegendentry{RBD-chAb-1}
\addlegendimage{s15, line width=0.7pt}\addlegendentry{RBD-chAb-15}
\addlegendimage{s25, line width=0.7pt}\addlegendentry{RBD-chAb-25}
\addlegendimage{s28, line width=0.7pt}\addlegendentry{RBD-chAb-28}
\addlegendimage{s45, line width=0.7pt}\addlegendentry{RBD-chAb-45}
\addlegendimage{s51, line width=0.7pt}\addlegendentry{RBD-chAb-51}
\addlegendimage{sIg, line width=0.7pt}\addlegendentry{NHIgG}
\end{semilogxaxis}

% ---------------- C1 B.1.1.7 ----------------
\begin{semilogxaxis}[drx, width=37.9mm, height=25.9mm, at={(11.4mm,46.2mm)}, title={B.1.1.7 (UK, Alpha)}, cleg={0.934,0.79}]
\addplot[dot50] coordinates {(0.1,50)(2500,50)};
\crv{cPur}{(1.23,0.4)(3.7,1.3)(11.1,7.7)(20,17.4)(33.3,32.8)(60,54.7)(100,72.7)(200,88.2)(300,93.3)(900,98.5)}
\crv{cOrg}{(1.23,3.2)(3.7,7.7)(11.1,18)(33.3,39.3)(100,66.3)(300,81.7)(900,92.7)}
\crv{cBlu}{(1.23,7.7)(2,17.4)(3.7,35.4)(6,58.6)(11.1,80.4)(20,93.3)(33.3,96.5)(100,99.5)(300,99.7)(900,99.7)}
\crv{cRed}{(1.23,5.8)(2,13.5)(3.7,30.2)(6,52.8)(11.1,75.3)(20,90)(33.3,95.9)(100,99.1)(300,99.6)(900,99.7)}
\pts{s15}{(3.7,14.2)+-(0,10) (11.1,14.8)+=(0,21.6)-=(0,14.8) (33.3,24.8)+-(0,10) (100,68.9)+-(0,10.5) (300,98.5)+-(0,1) (900,99.7)+-(0,0.5)}
\pts{s28}{(1.23,0)+=(0,16)-=(0,0) (3.7,5.8)+-(0,2) (11.1,30.9)+-(0,3) (33.3,35.4)+-(0,12) (100,62.4)+-(0,4.5) (300,81.7)+-(0,1) (900,97.2)+-(0,2)}
\pts{s45}{(1.23,7.7)+=(0,20)-=(0,7.7) (3.7,35.4)+-(0,7.5) (11.1,78.1)+-(0,6) (33.3,95.2)+-(0,2) (100,99.3)+-(0,0.3) (300,99.5)+-(0,0.3) (900,99.5)+-(0,0.3)}
\pts{s51}{(1.23,1.3)+=(0,10.7)-=(0,1.3) (3.7,30.5)+-(0,22.5) (11.1,70.4)+-(0,4.9) (33.3,95.9)+-(0,3.9) (100,99.1)+-(0,1) (300,100)+-(0,0) (900,99.7)+-(0,0)}
\addlegendimage{s15, line width=0.7pt}\addlegendentry{\makebox[24.5mm][l]{RBD-chAb-15}\makebox[0pt][c]{58.11 ± 8.52}}
\addlegendimage{s28, line width=0.7pt}\addlegendentry{\makebox[24.5mm][l]{RBD-chAb-28}\makebox[0pt][c]{58.51 ± 10.65}}
\addlegendimage{s45, line width=0.7pt}\addlegendentry{\makebox[24.5mm][l]{RBD-chAb-45}\makebox[0pt][c]{5.29 ± 0.43}}
\addlegendimage{s51, line width=0.7pt}\addlegendentry{\makebox[24.5mm][l]{RBD-chAb-51}\makebox[0pt][c]{6.39 ± 0.82}}
\node[font=\fs{6.5}\bfseries] at (axis description cs:1.67,0.985) {PRNT\textsubscript{50}};
\node[font=\fs{6.5}\bfseries] at (axis description cs:1.67,0.888) {(ng/ml)};
\end{semilogxaxis}

% ---------------- C2 P1 ----------------
\begin{semilogxaxis}[drx, width=37.9mm, height=25.9mm, at={(95.5mm,46.1mm)}, title={P1 (Brazil, Gamma)}, cleg={0.918,0.78}]
\addplot[dot50] coordinates {(0.1,50)(2000,50)};
\crv{cPur}{(1.23,11.1)(3.7,18.8)(11.1,30.3)(33.3,45.7)(100,59.7)(300,74.4)(900,84)}
\crv{cOrg}{(1.23,6.6)(3.7,15)(11.1,26.5)(33.3,43.1)(100,59.7)(300,76.3)(900,86.8)}
\crv{cBlu}{(1.23,25.2)(2,38)(3.7,52.7)(6,66.8)(11.1,80.8)(20,89.8)(33.3,93.6)(100,97.4)(300,98.7)(900,99)}
\crv{cRed}{(1.23,25.8)(2,40.5)(3.7,55.9)(6,70)(11.1,84)(20,92.3)(33.3,96.2)(100,99.1)(300,99.6)(900,99.7)}
\pts{s15}{(1.23,24.6)+-(0,10) (3.7,27.1)+-(0,8) (11.1,30)+-(0,8.3) (33.3,27.1)+-(0,2) (100,50.8)+-(0,7.5) (300,80.8)+-(0,5.5) (900,97)+-(0,3)}
\pts{s28}{(1.23,13.7)+=(0,22)-=(0,13.7) (3.7,23.3)+-(0,5) (11.1,25.2)+-(0,8.5) (33.3,32.2)+-(0,8) (100,59.7)+-(0,7.5) (300,77.6)+-(0,3) (900,95.5)+-(0,3)}
\pts{s45}{(1.23,26)+-(0,16) (3.7,51)+-(0,5) (11.1,82)+-(0,2) (33.3,93.5)+-(0,1) (100,97.5)+-(0,0.5) (300,99)+-(0,0.3) (900,99)+-(0,0.3)}
\pts{s51}{(1.23,26.2)+-(0,3) (3.7,54.6)+-(0,7) (11.1,87.9)+-(0,3.8) (33.3,95.8)+-(0,2) (100,99.6)+-(0,0.5) (300,99.3)+-(0,0.3) (900,99.5)+-(0,0.3)}
\addlegendimage{s15, line width=0.7pt}\addlegendentry{\makebox[24.3mm][l]{RBD-chAb-15}\makebox[0pt][c]{50.92 ± 13.05}}
\addlegendimage{s28, line width=0.7pt}\addlegendentry{\makebox[24.3mm][l]{RBD-chAb-28}\makebox[0pt][c]{58.33 ± 11.2}}
\addlegendimage{s45, line width=0.7pt}\addlegendentry{\makebox[24.3mm][l]{RBD-chAb-45}\makebox[0pt][c]{3.26 ± 0.30}}
\addlegendimage{s51, line width=0.7pt}\addlegendentry{\makebox[24.3mm][l]{RBD-chAb-51}\makebox[0pt][c]{2.92 ± 0.20}}
\node[font=\fs{6.5}\bfseries] at (axis description cs:1.656,0.973) {PRNT\textsubscript{50}};
\node[font=\fs{6.5}\bfseries] at (axis description cs:1.656,0.885) {(ng/ml)};
\end{semilogxaxis}

% ---------------- C3 B.1.617.2 ----------------
\begin{semilogxaxis}[drx, width=37.9mm, height=25.9mm, at={(11.4mm,6.8mm)}, title={B.1.617.2 (India, Delta)}, cleg={0.937,0.78}]
\addplot[dot50] coordinates {(0.1,50)(2500,50)};
\crv{cPur}{(1.23,19.3)(3.7,27)(11.1,36.6)(33.3,48.2)(100,58.5)(300,69.4)(900,79)}
\crv{cOrg}{(1.23,0)(3.7,0.4)(11.1,3.9)(20,9.6)(33.3,19.9)(60,37.9)(100,54)(200,73.9)(300,82.9)(900,95.8)}
\crv{cBlu}{(1.23,12.2)(3.7,21.2)(11.1,40.5)(33.3,63.6)(100,81)(300,91.3)(900,96.4)}
\crv{cRed}{(1.23,14.8)(3.7,23.1)(11.1,43.7)(33.3,66.2)(100,82.9)(300,92.5)(900,96.8)}
\pts{s15}{(1.23,42.7)+-(0,8.1) (3.7,44.6)+-(0,15) (11.1,12)+=(0,56)-=(0,12) (33.3,31.2)+-(0,18) (100,46.3)+-(0,11) (300,83)+-(0,2) (900,100)+-(0,0.5)}
\pts{s28}{(1.23,3.9)+=(0,29)-=(0,3.9) (3.7,7.3)+=(0,8)-=(0,7.3) (33.3,16.7)+-(0,11) (100,54.9)+-(0,10) (300,81)+-(0,7) (900,98)+-(0,1)}
\pts{s45}{(1.23,12.2)+=(0,20)-=(0,12.2) (3.7,19.3)+-(0,12) (11.1,45)+-(0,11) (33.3,59.1)+-(0,12) (100,77.8)+-(0,8) (300,91.3)+-(0,2) (900,95.8)+-(0,3.5)}
\pts{s51}{(1.23,14.5)+-(0,12) (3.7,21.5)+-(0,15.7) (11.1,46.7)+-(0,25) (33.3,66.8)+-(0,5.5) (100,78)+-(0,16) (300,95.1)+-(0,4) (900,97.7)+-(0,1)}
\addlegendimage{s15, line width=0.7pt}\addlegendentry{\makebox[24.5mm][l]{RBD-chAb-15}\makebox[0pt][c]{37.77 ± 26.15}}
\addlegendimage{s28, line width=0.7pt}\addlegendentry{\makebox[24.5mm][l]{RBD-chAb-28}\makebox[0pt][c]{94.07 ± 16.29}}
\addlegendimage{s45, line width=0.7pt}\addlegendentry{\makebox[24.5mm][l]{RBD-chAb-45}\makebox[0pt][c]{17.99 ± 3.15}}
\addlegendimage{s51, line width=0.7pt}\addlegendentry{\makebox[24.5mm][l]{RBD-chAb-51}\makebox[0pt][c]{14.23 ± 3.15}}
\node[font=\fs{6.5}\bfseries] at (axis description cs:1.675,0.973) {PRNT\textsubscript{50}};
\node[font=\fs{6.5}\bfseries] at (axis description cs:1.675,0.876) {(ng/ml)};
\end{semilogxaxis}

\node[font=\fs{13}\bfseries] at (1.9mm,245.6mm) {A};
\node[font=\fs{13}\bfseries] at (1.9mm,196.6mm) {B};
\node[font=\fs{13}\bfseries] at (2.1mm,76.3mm) {C};
\end{tikzpicture}
\end{document}
